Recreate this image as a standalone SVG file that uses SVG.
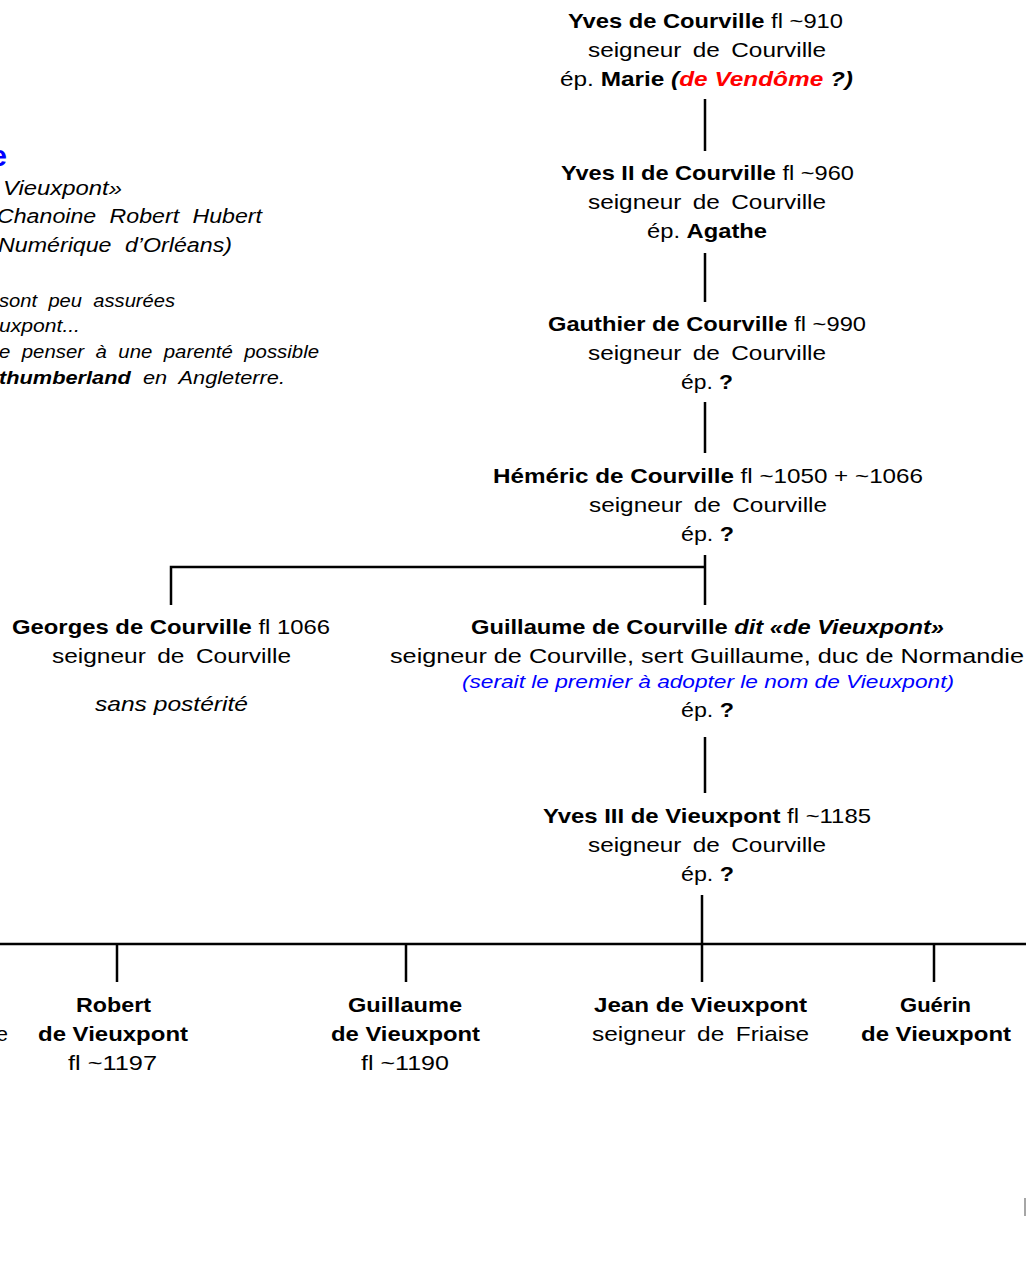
<svg xmlns="http://www.w3.org/2000/svg" width="1026" height="1272" viewBox="0 0 1026 1272">
<style>
text{font-family:"Liberation Sans",Arial,sans-serif;font-size:21px;fill:#000}
.b{font-weight:bold}
.i{font-style:italic}
.ws{word-spacing:4px}
.blue{fill:#0000ff}
.red{fill:#ff0000}
.note{font-style:italic;font-size:20px;word-spacing:6px}
.sm{font-style:italic;font-size:17.5px;word-spacing:5px}
.lk{stroke:#000;stroke-width:2.5;fill:none}
</style>
<rect width="1026" height="1272" fill="#fff"/>
<g id="connectors">
<path class="lk" d="M705,99V151M705,253V302M705,402V453M705,555V605M171,605V567H705M705,737V793M702,895V945M0,944H1026M117,944V982M406,944V982M702,944V982M934,944V982"/>
<path d="M1025,1198V1216" stroke="#888" stroke-width="1.5"/>
</g>
<g id="note">
<text x="7" y="166" class="b blue" style="font-size:30px;text-anchor:end">e</text>
<text x="3" y="195" class="note" textLength="119" lengthAdjust="spacingAndGlyphs">Vieuxpont»</text>
<text x="-3" y="223" class="note" textLength="265" lengthAdjust="spacingAndGlyphs">Chanoine Robert Hubert</text>
<text x="-2" y="252" class="note" textLength="234" lengthAdjust="spacingAndGlyphs">Numérique d’Orléans)</text>
<text x="-1" y="307" class="sm" textLength="176" lengthAdjust="spacingAndGlyphs">sont peu assurées</text>
<text x="-1" y="332" class="sm" textLength="81" lengthAdjust="spacingAndGlyphs">uxpont...</text>
<text x="-1" y="358" class="sm" textLength="320" lengthAdjust="spacingAndGlyphs">e penser à une parenté possible</text>
<text x="-1" y="384" class="sm" textLength="286" lengthAdjust="spacingAndGlyphs"><tspan class="b">thumberland</tspan> en Angleterre.</text>
</g>
<g id="yves1">
<text x="568" y="28" textLength="275" lengthAdjust="spacingAndGlyphs"><tspan class="b">Yves de Courville</tspan> fl ~910</text>
<text x="588" y="57" class="ws" textLength="238" lengthAdjust="spacingAndGlyphs">seigneur de Courville</text>
<text x="560" y="86" textLength="293" lengthAdjust="spacingAndGlyphs">ép. <tspan class="b">Marie</tspan> <tspan class="b i">(<tspan class="red">de Vendôme</tspan> ?)</tspan></text>
</g>
<g id="yves2">
<text x="561" y="180" textLength="293" lengthAdjust="spacingAndGlyphs"><tspan class="b">Yves II de Courville</tspan> fl ~960</text>
<text x="588" y="209" class="ws" textLength="238" lengthAdjust="spacingAndGlyphs">seigneur de Courville</text>
<text x="647" y="238" textLength="120" lengthAdjust="spacingAndGlyphs">ép. <tspan class="b">Agathe</tspan></text>
</g>
<g id="gauthier">
<text x="548" y="331" textLength="318" lengthAdjust="spacingAndGlyphs"><tspan class="b">Gauthier de Courville</tspan> fl ~990</text>
<text x="588" y="360" class="ws" textLength="238" lengthAdjust="spacingAndGlyphs">seigneur de Courville</text>
<text x="681" y="389" textLength="52" lengthAdjust="spacingAndGlyphs">ép. <tspan class="b">?</tspan></text>
</g>
<g id="hemeric">
<text x="493" y="483" textLength="430" lengthAdjust="spacingAndGlyphs"><tspan class="b">Héméric de Courville</tspan> fl ~1050 + ~1066</text>
<text x="589" y="512" class="ws" textLength="238" lengthAdjust="spacingAndGlyphs">seigneur de Courville</text>
<text x="681" y="541" textLength="53" lengthAdjust="spacingAndGlyphs">ép. <tspan class="b">?</tspan></text>
</g>
<g id="georges">
<text x="12" y="634" textLength="318" lengthAdjust="spacingAndGlyphs"><tspan class="b">Georges de Courville</tspan> fl 1066</text>
<text x="52" y="663" class="ws" textLength="239" lengthAdjust="spacingAndGlyphs">seigneur de Courville</text>
<text x="95" y="711" class="i" textLength="153" lengthAdjust="spacingAndGlyphs">sans postérité</text>
</g>
<g id="guillaume">
<text x="471" y="634" class="b" textLength="473" lengthAdjust="spacingAndGlyphs">Guillaume de Courville <tspan class="i">dit «de Vieuxpont»</tspan></text>
<text x="390" y="663" textLength="634" lengthAdjust="spacingAndGlyphs">seigneur de Courville, sert Guillaume, duc de Normandie</text>
<text x="462" y="688" class="i blue" style="font-size:19px" textLength="492" lengthAdjust="spacingAndGlyphs">(serait le premier à adopter le nom de Vieuxpont)</text>
<text x="681" y="717" textLength="53" lengthAdjust="spacingAndGlyphs">ép. <tspan class="b">?</tspan></text>
</g>
<g id="yves3">
<text x="543" y="823" textLength="328" lengthAdjust="spacingAndGlyphs"><tspan class="b">Yves III de Vieuxpont</tspan> fl ~1185</text>
<text x="588" y="852" class="ws" textLength="238" lengthAdjust="spacingAndGlyphs">seigneur de Courville</text>
<text x="681" y="881" textLength="53" lengthAdjust="spacingAndGlyphs">ép. <tspan class="b">?</tspan></text>
</g>
<g id="leftchild">
<text x="8" y="1041" style="text-anchor:end">e</text>
</g>
<g id="robert">
<text x="76" y="1012" class="b" textLength="75" lengthAdjust="spacingAndGlyphs">Robert</text>
<text x="38" y="1041" class="b" textLength="150" lengthAdjust="spacingAndGlyphs">de Vieuxpont</text>
<text x="68" y="1070" textLength="89" lengthAdjust="spacingAndGlyphs">fl ~1197</text>
</g>
<g id="guillaume2">
<text x="348" y="1012" class="b" textLength="114" lengthAdjust="spacingAndGlyphs">Guillaume</text>
<text x="331" y="1041" class="b" textLength="149" lengthAdjust="spacingAndGlyphs">de Vieuxpont</text>
<text x="361" y="1070" textLength="88" lengthAdjust="spacingAndGlyphs">fl ~1190</text>
</g>
<g id="jean">
<text x="594" y="1012" class="b" textLength="213" lengthAdjust="spacingAndGlyphs">Jean de Vieuxpont</text>
<text x="592" y="1041" class="ws" textLength="217" lengthAdjust="spacingAndGlyphs">seigneur de Friaise</text>
</g>
<g id="guerin">
<text x="900" y="1012" class="b" textLength="71" lengthAdjust="spacingAndGlyphs">Guérin</text>
<text x="861" y="1041" class="b" textLength="150" lengthAdjust="spacingAndGlyphs">de Vieuxpont</text>
</g>
</svg>
